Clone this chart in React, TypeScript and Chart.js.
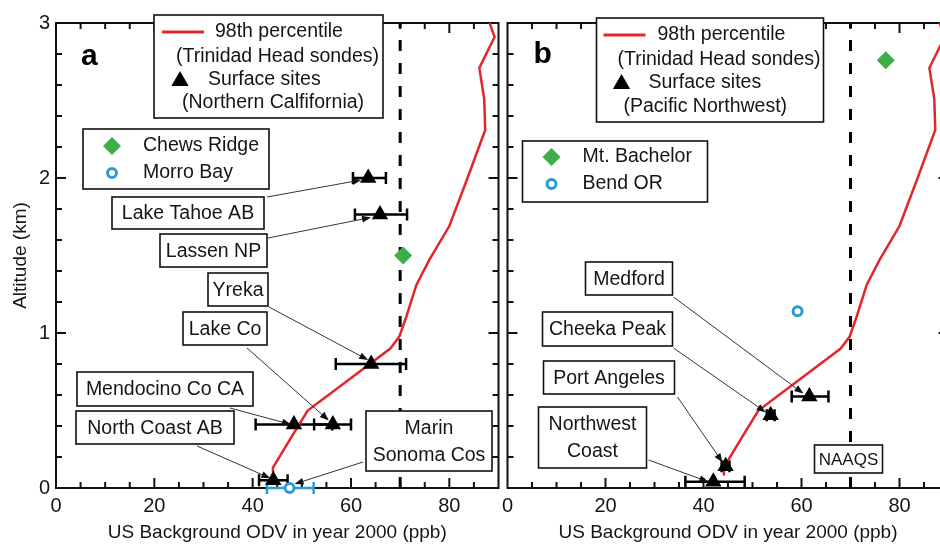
import React, { useEffect, useRef } from "react";
import { Chart, registerables } from "chart.js";

Chart.register(...registerables);

const FAM = '"Liberation Sans", Arial, Helvetica, sans-serif';
const RED = "#e3262b";
const GREEN = "#3fae49";
const BLUE = "#2b9bd6";
const INK = "#151515";
const TXT = 19.5;

// ---- axes ----
const X_MIN = 0;
const X_MAX = 90;
const Y_MIN = 0;
const Y_MAX = 3;
const xLabelStep = 20;
const yLabelStep = 1;
const NAAQS = 70;
const xTitle = "US Background ODV in year 2000 (ppb)";
const yTitle = "Altitude (km)";

// ---- 98th percentile profile, Trinidad Head sondes ----
const sondeODV = [44.2, 44.1, 48.4, 51.2, 68.0, 69.8, 71.2, 73.3, 75.9, 80.0, 83.7, 87.3, 87.1, 86.1, 89.2, 88.2];
const sondeAlt = [0.08, 0.13, 0.355, 0.5, 0.9, 0.975, 1.1, 1.31, 1.47, 1.69, 2.0, 2.31, 2.51, 2.71, 2.91, 3.0];

// ---- panel a: Northern California surface sites ----
const sitesA = ["Lake Tahoe AB", "Lassen NP", "Yreka", "Lake Co", "Mendocino Co CA", "North Coast AB"];
const odvA = [63.5, 65.9, 64.1, 56.3, 48.4, 44.2];
const altA = [2.0, 1.765, 0.8, 0.41, 0.41, 0.05];
const lowA = [60.4, 60.8, 56.9, 52.5, 40.6, 41.3];
const highA = [67.1, 71.4, 71.2, 60.0, 56.2, 47.1];
const greenNameA = "Chews Ridge";
const greenOdvA = [70.6];
const greenAltA = [1.5];
const blueNameA = "Morro Bay";
const blueOdvA = [47.5];
const blueAltA = [0.0];
const blueLowA = [42.9];
const blueHighA = [52.4];
const regionA = "(Northern Calfifornia)";

// ---- panel b: Pacific Northwest surface sites ----
const sitesB = ["Medford", "Cheeka Peak", "Port Angeles", "Northwest Coast"];
const odvB = [61.6, 53.7, 44.5, 42.0];
const altB = [0.59, 0.47, 0.14, 0.04];
const lowB = [58.0, 52.9, 43.7, 36.3];
const highB = [65.5, 54.5, 45.3, 48.4];
const greenNameB = "Mt. Bachelor";
const greenOdvB = [77.2];
const greenAltB = [2.76];
const blueNameB = "Bend OR";
const blueOdvB = [59.2];
const blueAltB = [1.14];
const blueLowB: number[] = [];
const blueHighB: number[] = [];
const regionB = "(Pacific Northwest)";

type Label = {
  lines: string[];
  box: [number, number, number, number]; // relative to chart area (px)
  from?: [number, number]; // relative px
  target?: [number, number]; // data coordinates of the marker
  off?: [number, number]; // pixel nudge from marker
  size?: number;
};

type Panel = {
  letter: string;
  odv: number[];
  alt: number[];
  low: number[];
  high: number[];
  gOdv: number[];
  gAlt: number[];
  bOdv: number[];
  bAlt: number[];
  bLow: number[];
  bHigh: number[];
  gName: string;
  bName: string;
  region: string;
  showY: boolean;
  yWidth: number;
  padRight: number;
  width: number;
  left: number;
  leg1: { box: [number, number, number, number]; line: [number, number, number]; t1: [number, number]; t2: [number, number]; tri: [number, number]; t3: [number, number]; t4: [number, number] };
  leg2: { box: [number, number, number, number]; m1: [number, number]; m2: [number, number]; tx: number };
  letterPos: [number, number];
  labels: Label[];
};

const panelA: Panel = {
  letter: "a",
  odv: odvA, alt: altA, low: lowA, high: highA,
  gOdv: greenOdvA, gAlt: greenAltA, bOdv: blueOdvA, bAlt: blueAltA, bLow: blueLowA, bHigh: blueHighA,
  gName: greenNameA, bName: blueNameA, region: regionA,
  showY: true, yWidth: 56, padRight: 4, width: 508, left: 0,
  leg1: { box: [98, -8, 229, 103], line: [106, 148, 9], t1: [159, 9], t2: [120, 34], tri: [124, 58], t3: [152, 57], t4: [126, 80] },
  leg2: { box: [27, 106, 186, 60], m1: [56, 123], m2: [56, 150], tx: 87 },
  letterPos: [25, 42],
  labels: [
    { lines: [sitesA[0]], box: [56, 174, 152, 32], from: [211, 174], target: [odvA[0], altA[0]], off: [-7, 2] },
    { lines: [sitesA[1]], box: [104, 211, 107, 33], from: [212, 215], target: [odvA[1], altA[1]], off: [-9, 3] },
    { lines: [sitesA[2]], box: [152, 250, 60, 33], from: [213, 284], target: [odvA[2], altA[2]], off: [-3, -4] },
    { lines: [sitesA[3]], box: [127, 289, 84, 33], from: [191, 325], target: [odvA[3], altA[3]], off: [-4, -4] },
    { lines: [sitesA[4]], box: [21, 349, 176, 34], from: [174, 385], target: [odvA[4], altA[4]], off: [-3, 0] },
    { lines: [sitesA[5]], box: [20, 388, 158, 33], from: [141, 423], target: [odvA[5], altA[5]], off: [-3, -2] },
    { lines: ["Marin", "Sonoma Cos"], box: [310, 388, 126, 60], from: [307, 439], target: [blueOdvA[0], blueAltA[0]], off: [5, -4] },
  ],
};

const panelB: Panel = {
  letter: "b",
  odv: odvB, alt: altB, low: lowB, high: highB,
  gOdv: greenOdvB, gAlt: greenAltB, bOdv: blueOdvB, bAlt: blueAltB, bLow: blueLowB, bHigh: blueHighB,
  gName: greenNameB, bName: blueNameB, region: regionB,
  showY: false, yWidth: 5, padRight: 6, width: 460, left: 498,
  leg1: { box: [89, -5, 227, 104], line: [96, 138, 12], t1: [150, 12], t2: [110, 37], tri: [114, 61], t3: [141, 60], t4: [116, 84] },
  leg2: { box: [15, 118, 185, 61], m1: [44, 134], m2: [44, 161], tx: 75 },
  letterPos: [26, 40],
  labels: [
    { lines: [sitesB[0]], box: [78, 239, 87, 33], from: [166, 274], target: [odvB[0], altB[0]], off: [-6, -3] },
    { lines: [sitesB[1]], box: [35, 289, 130, 34], from: [166, 325], target: [odvB[1], altB[1]], off: [-5, -3] },
    { lines: [sitesB[2]], box: [36, 338, 131, 33], from: [170, 374], target: [odvB[2], altB[2]], off: [-3, -4] },
    { lines: ["Northwest", "Coast"], box: [31, 384, 108, 61], from: [141, 437], target: [odvB[3], altB[3]], off: [-5, 0] },
    { lines: ["NAAQS"], box: [307, 422, 68, 28], size: 17 },
  ],
};

function tri(ctx: CanvasRenderingContext2D, x: number, y: number, r: number) {
  ctx.beginPath();
  ctx.moveTo(x, y - r);
  ctx.lineTo(x + r * 0.866, y + r / 2);
  ctx.lineTo(x - r * 0.866, y + r / 2);
  ctx.closePath();
  ctx.fillStyle = "#000";
  ctx.fill();
}
function diamond(ctx: CanvasRenderingContext2D, x: number, y: number, r: number) {
  ctx.beginPath();
  ctx.moveTo(x - r, y);
  ctx.lineTo(x, y - r);
  ctx.lineTo(x + r, y);
  ctx.lineTo(x, y + r);
  ctx.closePath();
  ctx.fillStyle = GREEN;
  ctx.fill();
}
function ring(ctx: CanvasRenderingContext2D, x: number, y: number, r: number) {
  ctx.beginPath();
  ctx.arc(x, y, r, 0, Math.PI * 2);
  ctx.fillStyle = "#fff";
  ctx.fill();
  ctx.lineWidth = 3;
  ctx.strokeStyle = BLUE;
  ctx.stroke();
}
function arrow(ctx: CanvasRenderingContext2D, x1: number, y1: number, x2: number, y2: number) {
  const a = Math.atan2(y2 - y1, x2 - x1);
  const L = 9, W = 3.5;
  ctx.strokeStyle = "#333";
  ctx.lineWidth = 1;
  ctx.beginPath();
  ctx.moveTo(x1, y1);
  ctx.lineTo(x2 - Math.cos(a) * L * 0.8, y2 - Math.sin(a) * L * 0.8);
  ctx.stroke();
  ctx.fillStyle = "#111";
  ctx.beginPath();
  ctx.moveTo(x2, y2);
  ctx.lineTo(x2 - Math.cos(a) * L - Math.sin(a) * W, y2 - Math.sin(a) * L + Math.cos(a) * W);
  ctx.lineTo(x2 - Math.cos(a) * L + Math.sin(a) * W, y2 - Math.sin(a) * L - Math.cos(a) * W);
  ctx.closePath();
  ctx.fill();
}

function makePlugin(p: Panel) {
  return {
    id: "decor" + p.letter,
    beforeDatasetsDraw(chart: any) {
      const ctx: CanvasRenderingContext2D = chart.ctx;
      const xs = chart.scales.x, ys = chart.scales.y;
      const { left, right, top, bottom } = chart.chartArea;
      ctx.save();
      // frame
      ctx.strokeStyle = "#111";
      ctx.lineWidth = 2;
      ctx.strokeRect(left, top, right - left, bottom - top);
      // inward ticks
      ctx.beginPath();
      for (let v = X_MIN + 5; v < X_MAX; v += 5) {
        const px = xs.getPixelForValue(v);
        const len = v % xLabelStep === 0 ? 10 : 6;
        ctx.moveTo(px, bottom); ctx.lineTo(px, bottom - len);
        ctx.moveTo(px, top); ctx.lineTo(px, top + len);
      }
      for (let k = 1; k < 15; k++) {
        const py = ys.getPixelForValue(k / 5);
        const len = k % 5 === 0 ? 10 : 6;
        ctx.moveTo(left, py); ctx.lineTo(left + len, py);
        ctx.moveTo(right, py); ctx.lineTo(right - len, py);
      }
      ctx.stroke();

      // error bars
      const bar = (lo: number, hi: number, yv: number, color: string) => {
        const y = ys.getPixelForValue(yv);
        const x1 = xs.getPixelForValue(lo), x2 = xs.getPixelForValue(hi);
        ctx.strokeStyle = color;
        ctx.lineWidth = 2.5;
        ctx.beginPath();
        ctx.moveTo(x1, y); ctx.lineTo(x2, y);
        ctx.moveTo(x1, y - 6); ctx.lineTo(x1, y + 6);
        ctx.moveTo(x2, y - 6); ctx.lineTo(x2, y + 6);
        ctx.stroke();
      };
      p.low.forEach((lo, i) => bar(lo, p.high[i], p.alt[i], "#000"));
      p.bLow.forEach((lo, i) => bar(lo, p.bHigh[i], p.bAlt[i], BLUE));
      ctx.restore();
    },
    afterDatasetsDraw(chart: any) {
      const ctx: CanvasRenderingContext2D = chart.ctx;
      const xs = chart.scales.x, ys = chart.scales.y;
      const { left, top } = chart.chartArea;
      ctx.save();

      const text = (s: string, x: number, y: number, size = TXT, align: CanvasTextAlign = "left") => {
        ctx.font = `${size}px ${FAM}`;
        ctx.fillStyle = INK;
        ctx.textAlign = align;
        ctx.textBaseline = "middle";
        ctx.fillText(s, x, y);
      };
      const boxR = (b: [number, number, number, number]) => {
        ctx.fillStyle = "#fff";
        ctx.fillRect(left + b[0], top + b[1], b[2], b[3]);
        ctx.strokeStyle = "#111";
        ctx.lineWidth = 1.6;
        ctx.strokeRect(left + b[0], top + b[1], b[2], b[3]);
      };

      // legend 1
      const l1 = p.leg1;
      boxR(l1.box);
      ctx.strokeStyle = RED;
      ctx.lineWidth = 3;
      ctx.beginPath();
      ctx.moveTo(left + l1.line[0], top + l1.line[2]);
      ctx.lineTo(left + l1.line[1], top + l1.line[2]);
      ctx.stroke();
      text("98th percentile", left + l1.t1[0], top + l1.t1[1]);
      text("(Trinidad Head sondes)", left + l1.t2[0], top + l1.t2[1]);
      tri(ctx, left + l1.tri[0], top + l1.tri[1], 10);
      text("Surface sites", left + l1.t3[0], top + l1.t3[1]);
      text(p.region, left + l1.t4[0], top + l1.t4[1]);

      // legend 2
      const l2 = p.leg2;
      boxR(l2.box);
      diamond(ctx, left + l2.m1[0], top + l2.m1[1], 9);
      text(p.gName, left + l2.tx, top + l2.m1[1]);
      ring(ctx, left + l2.m2[0], top + l2.m2[1], 4.5);
      text(p.bName, left + l2.tx, top + l2.m2[1]);

      // site labels with arrows
      for (const lb of p.labels) {
        if (lb.from && lb.target) {
          const off = lb.off || [0, 0];
          const tx = xs.getPixelForValue(lb.target[0]) + off[0];
          const ty = ys.getPixelForValue(lb.target[1]) + off[1];
          arrow(ctx, left + lb.from[0], top + lb.from[1], tx, ty);
        }
      }
      for (const lb of p.labels) {
        boxR(lb.box);
        const cx = left + lb.box[0] + lb.box[2] / 2;
        const cy = top + lb.box[1] + lb.box[3] / 2;
        const n = lb.lines.length;
        const sp = 27;
        lb.lines.forEach((s, i) => text(s, cx, cy + (i - (n - 1) / 2) * sp + 1, lb.size || TXT, "center"));
      }

      // panel letter
      ctx.font = `bold 30px ${FAM}`;
      ctx.fillStyle = "#000";
      ctx.textAlign = "left";
      ctx.textBaseline = "alphabetic";
      ctx.fillText(p.letter, left + p.letterPos[0], top + p.letterPos[1]);
      ctx.restore();
    },
  };
}

function makeConfig(p: Panel): any {
  const pts = (xs: number[], ys: number[]) => xs.map((x, i) => ({ x, y: ys[i] }));
  return {
    type: "scatter",
    data: {
      datasets: [
        { label: "Surface sites", data: pts(p.odv, p.alt), pointStyle: "triangle", pointRadius: 9.5, backgroundColor: "#000", borderColor: "#000", borderWidth: 0, clip: false, order: 0 },
        { label: p.gName, data: pts(p.gOdv, p.gAlt), pointStyle: "rectRot", pointRadius: 9, backgroundColor: GREEN, borderWidth: 0, clip: false, order: 1 },
        { label: p.bName, data: pts(p.bOdv, p.bAlt), pointStyle: "circle", pointRadius: 4.5, backgroundColor: "#fff", borderColor: BLUE, borderWidth: 3, clip: false, order: 1 },
        { label: "98th percentile", data: pts(sondeODV, sondeAlt), showLine: true, borderColor: RED, borderWidth: 2.5, pointRadius: 0, tension: 0, order: 2 },
        { label: "NAAQS", data: [{ x: NAAQS, y: Y_MIN }, { x: NAAQS, y: Y_MAX }], showLine: true, borderColor: "#000", borderWidth: 3, borderDash: [11, 12], pointRadius: 0, order: 3 },
      ],
    },
    options: {
      animation: false,
      responsive: false,
      events: [],
      layout: { padding: { left: 0, top: 23, right: p.padRight, bottom: 0 } },
      plugins: { legend: { display: false }, tooltip: { enabled: false } },
      scales: {
        x: {
          type: "linear",
          min: X_MIN,
          max: X_MAX,
          afterFit: (s: any) => { s.height = 56; s.paddingLeft = 0; s.paddingRight = 0; },
          grid: { display: false, drawTicks: false },
          border: { display: false },
          ticks: {
            stepSize: xLabelStep,
            padding: 6,
            color: INK,
            autoSkip: false,
            maxRotation: 0,
            font: { family: FAM, size: 20 },
            callback: (v: number) => (v % xLabelStep === 0 ? String(v) : ""),
          },
          title: { display: true, text: xTitle, color: INK, font: { family: FAM, size: 19 }, padding: { top: 0, bottom: 0 } },
        },
        y: {
          type: "linear",
          min: Y_MIN,
          max: Y_MAX,
          afterFit: (s: any) => { s.width = p.yWidth; s.paddingTop = 0; s.paddingBottom = 0; },
          grid: { display: false, drawTicks: false },
          border: { display: false },
          ticks: {
            display: p.showY,
            stepSize: yLabelStep,
            padding: 6,
            color: INK,
            font: { family: FAM, size: 20 },
          },
          title: { display: p.showY, text: yTitle, color: INK, font: { family: FAM, size: 19 }, padding: { top: 9, bottom: 0 } },
        },
      },
    },
    plugins: [makePlugin(p)],
  };
}

export default function App() {
  const refA = useRef<HTMLCanvasElement>(null);
  const refB = useRef<HTMLCanvasElement>(null);
  useEffect(() => {
    const a = new Chart(refA.current as HTMLCanvasElement, makeConfig(panelA));
    const b = new Chart(refB.current as HTMLCanvasElement, makeConfig(panelB));
    return () => {
      a.destroy();
      b.destroy();
    };
  }, []);
  return (
    <div style={{ position: "fixed", left: 0, top: 0, width: 940, height: 544, overflow: "hidden", background: "#fff" }}>
      <canvas ref={refA} width={panelA.width} height={544} style={{ position: "absolute", left: panelA.left, top: 0 }} />
      <canvas ref={refB} width={panelB.width} height={544} style={{ position: "absolute", left: panelB.left, top: 0 }} />
    </div>
  );
}
